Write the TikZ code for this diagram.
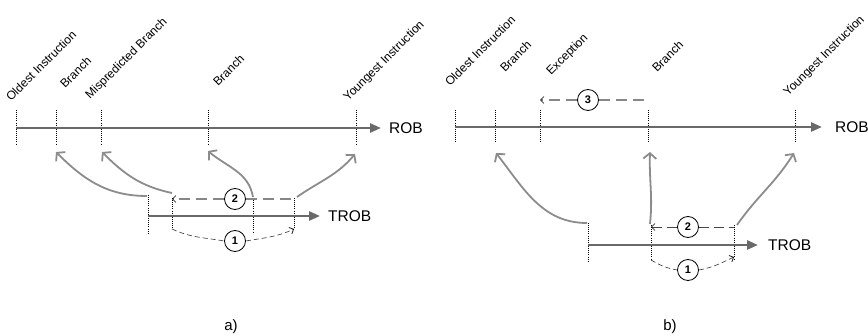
\documentclass[tikz,border=0pt]{standalone}
\usepackage{fontspec}
\setmainfont{Liberation Sans}
\usetikzlibrary{arrows.meta}
\definecolor{lineg}{RGB}{105,105,105}
\definecolor{curveg}{RGB}{140,140,140}
\definecolor{dashg}{RGB}{135,135,135}
\definecolor{dashd}{RGB}{70,70,70}
\tikzset{
 mainline/.style={line width=2.6pt, lineg, -{Triangle[length=11pt,width=9pt]}},
 tickline/.style={line width=0.5pt, black, dash pattern=on 0.8pt off 1.3pt},
 jump/.style={line width=1.8pt, curveg, -{Straight Barb[length=5.5pt,width=13pt]}},
 flushg/.style={line width=1.1pt, dashg, dash pattern=on 11pt off 6pt},
 flushd/.style={line width=0.9pt, dashd, dash pattern=on 10pt off 5pt},
 dashone/.style={line width=0.6pt, black!80, dash pattern=on 5pt off 3pt},
 smalltip/.style={-{Straight Barb[length=3.5pt,width=7pt,line width=0.7pt,color=black]}},
 numc/.style={circle, draw, line width=0.8pt, minimum size=21pt, inner sep=0pt, fill=white, font=\fontsize{11}{11}\selectfont\bfseries},
 lbl/.style={rotate=45, anchor=base west, inner sep=0pt, font=\fontsize{12}{13}\selectfont},
 bigtxt/.style={anchor=west, inner sep=0pt, font=\fontsize{15.5}{16}\selectfont},
 captxt/.style={inner sep=0pt, font=\fontsize{15}{16}\selectfont},
}
\begin{document}
\begin{tikzpicture}[x=1pt,y=1pt]
\useasboundingbox (0,0) rectangle (868,335);
% ================= panel a =================
\coordinate (aR0) at (16,207); \coordinate (aR1) at (381,207);
\foreach \n/\x in {a/16,b/56,c/101,d/208,e/356}{
  \coordinate (at\n t) at (\x,225); \coordinate (at\n b) at (\x,190);
  \draw[tickline] (at\n t) -- (at\n b);}
\draw[mainline] (aR0) -- (aR1);
\node[bigtxt] (aROB) at (389,207) {ROB};
\node[lbl] (aL1) at (11,233) {Oldest Instruction};
\node[lbl] (aL2) at (65,246) {Branch};
\node[lbl] (aL3) at (90,235) {Mispredicted Branch};
\node[lbl] (aL4) at (218,248) {Branch};
\node[lbl] (aL5) at (348,233) {Youngest Instruction};
% TROB a
\coordinate (aT0) at (148,119); \coordinate (aT1) at (320,119);
\coordinate (ak1t) at (148,140); \coordinate (ak1b) at (148,102);
\coordinate (ak2t) at (172,137); \coordinate (ak2b) at (172,106);
\coordinate (ak3t) at (253,137); \coordinate (ak3b) at (253,102);
\coordinate (ak4t) at (294,137); \coordinate (ak4b) at (294,106);
\foreach \k in {1,2,3,4}{\draw[tickline] (ak\k t) -- (ak\k b);}
\draw[mainline] (aT0) -- (aT1);
\node[bigtxt] (aTROB) at (328,119) {TROB};
% gray jumps a
\coordinate (ag1s) at (147,139); \coordinate (ag1e) at (56,183);
\coordinate (ag2s) at (172,142); \coordinate (ag2e) at (102,183);
\coordinate (ag3s) at (253,138); \coordinate (ag3e) at (208,184);
\coordinate (ag4s) at (297,138); \coordinate (ag4e) at (355,181);
\draw[jump] (ag1s) to[out=180,in=-45] (ag1e);
\draw[jump] (ag2s) to[out=168,in=-45] (ag2e);
\draw[jump] (ag3s) to[out=100,in=-40] (ag3e);
\draw[jump] (ag4s) to[out=35,in=-130] (ag4e);
% dashed 2 a
\node[numc] (a2) at (235,136) {2};
\coordinate (a2r) at (294,136); \coordinate (a2l) at (172,136);
\draw[flushg] (a2.east) -- (a2r);
\draw[flushg,smalltip] (a2.west) -- (a2l);
% dashed 1 a
\node[numc] (a1) at (235,94) {1};
\coordinate (a1s) at (172,106); \coordinate (a1e) at (294,106);
\draw[dashone] (a1s) to[out=-25,in=170] (a1.west);
\draw[dashone,smalltip] (a1.east) to[out=10,in=-155] (a1e);
\node[captxt] (acap) at (231,8) {a)};
% ================= panel b =================
\coordinate (bR0) at (455,208); \coordinate (bR1) at (822,208);
\foreach \n/\x in {a/455,b/495,c/540,d/648,e/795}{
  \coordinate (bt\n t) at (\x,225); \coordinate (bt\n b) at (\x,192);
  \draw[tickline] (bt\n t) -- (bt\n b);}
\draw[mainline] (bR0) -- (bR1);
\node[bigtxt] (bROB) at (835,208) {ROB};
\node[lbl] (bL1) at (450,248) {Oldest Instruction};
\node[lbl] (bL2) at (505,262) {Branch};
\node[lbl] (bL3) at (551,259) {Exception};
\node[lbl] (bL4) at (657,262) {Branch};
\node[lbl] (bL5) at (788,238) {Youngest Instruction};
% dashed 3 b
\node[numc] (b3) at (588,235) {3};
\coordinate (b3r) at (648,235); \coordinate (b3l) at (540,235);
\draw[flushg] (b3.east) -- (b3r);
\draw[flushg,smalltip] (b3.west) -- (b3l);
% TROB b
\coordinate (bT0) at (588,90); \coordinate (bT1) at (758,90);
\coordinate (bk1t) at (588,112); \coordinate (bk1b) at (588,73);
\coordinate (bk2t) at (651,110); \coordinate (bk2b) at (651,75);
\coordinate (bk3t) at (734,110); \coordinate (bk3b) at (734,75);
\foreach \k in {1,2,3}{\draw[tickline] (bk\k t) -- (bk\k b);}
\draw[mainline] (bT0) -- (bT1);
\node[bigtxt] (bTROB) at (768,90) {TROB};
% gray jumps b
\coordinate (bg1s) at (587,112); \coordinate (bg1e) at (496,182);
\coordinate (bg2s) at (650,111); \coordinate (bg2e) at (650,183);
\coordinate (bg3s) at (737,110); \coordinate (bg3e) at (794,182);
\draw[jump] (bg1s) to[out=180,in=-52] (bg1e);
\draw[jump] (bg2s) to[out=84,in=-92] (bg2e);
\draw[jump] (bg3s) to[out=55,in=-122] (bg3e);
% dashed 2 b
\node[numc] (b2) at (688,108) {2};
\coordinate (b2r) at (734,108); \coordinate (b2l) at (651,108);
\draw[flushd] (b2.east) -- (b2r);
\draw[flushd,smalltip] (b2.west) -- (b2l);
% dashed 1 b
\node[numc] (b1) at (688,65) {1};
\coordinate (b1s) at (651,75); \coordinate (b1e) at (734,78);
\draw[dashone] (b1s) to[out=-30,in=170] (b1.west);
\draw[dashone,smalltip] (b1.east) to[out=10,in=-155] (b1e);
\node[captxt] (bcap) at (670,8) {b)};
\end{tikzpicture}
\end{document}
